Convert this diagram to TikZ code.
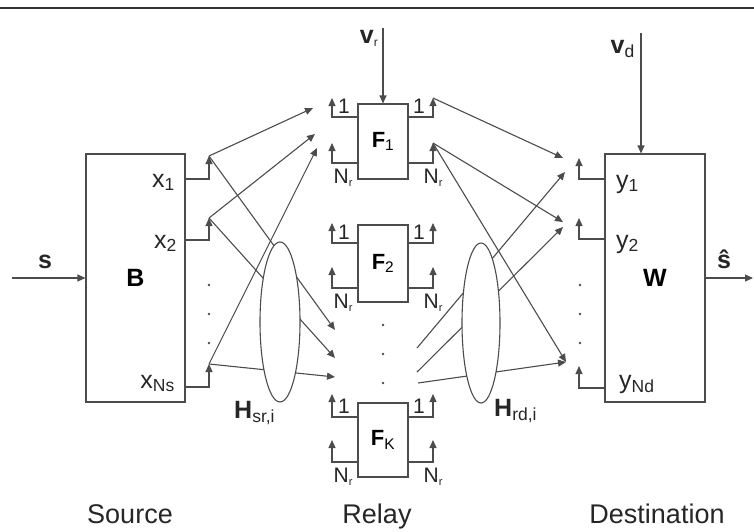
\documentclass[tikz,border=0pt]{standalone}
\usepackage{fontspec}
\setmainfont{Liberation Sans}
\usetikzlibrary{arrows.meta,positioning,shapes.geometric}

\newcommand{\fsbig}{\fontsize{25}{28}\selectfont}
\newcommand{\fsrel}{\fontsize{22}{25}\selectfont}
\newcommand{\fssml}{\fontsize{21}{24}\selectfont}
\newcommand{\fscap}{\fontsize{27}{30}\selectfont}
\newcommand{\nr}{N\raisebox{-0.3ex}{\fontsize{11}{12}\selectfont r}}

\tikzset{
  wire/.style={draw=black!70, line width=1.1pt},
  arr/.style={wire, -{Triangle[length=8pt,width=7pt]}},
  blk/.style={wire, minimum width=99pt, minimum height=248pt, inner sep=0pt, font=\fsbig\bfseries},
  relay/.style={wire, minimum width=50pt, inner sep=0pt, font=\fsrel},
  chan/.style={wire, fill=white, ellipse, inner sep=0pt, minimum width=40pt, minimum height=160pt},
  dot/.style={circle, fill=black!70, inner sep=0pt, minimum size=2.6pt},
  lbl/.style={text=black!85, inner sep=0pt, font=\fsbig}
}

\begin{document}
\begin{tikzpicture}[x=1pt,y=-1pt]
	\useasboundingbox (0,0) rectangle (754,531);
	% Top rule
	\draw[black!80, line width=2pt] (0,8) -- (754,8);

	% Source, relays and destination
	\node[blk] (src) at (135.5,278) {B};
	\node[blk, minimum width=100pt] (dst) at (655,278) {W};
	\node[relay, minimum height=75pt] (f1) at (383,141.5) {\textbf{F}\textsubscript{1}};
	\node[relay, minimum height=77pt] (f2) at (383,263.5) {\textbf{F}\textsubscript{2}};
	\node[relay, minimum height=74pt] (fk) at (383,440) {\textbf{F}\textsubscript{K}};

	% Input, output and noise
	\coordinate (sin) at (12,278);
	\coordinate (sout) at (753,278);
	\draw[arr] (sin) -- (src);
	\draw[arr] (dst) -- (sout);
	\node[lbl, font=\fsbig\bfseries, anchor=base] (s) at (45,268) {s};
	\node[lbl, font=\fsbig\bfseries, anchor=base] (shat) at (724,268) {ŝ};
	\coordinate (vr) at (383,28);
	\coordinate (vd) at (641,33);
	\draw[arr] (vr) -- (f1);
	\draw[arr] (vd) -- (vd |- dst.north);
	\node[lbl, anchor=base east] (vrl) at (378,43) {\textbf{v}\raisebox{-0.3ex}{\fontsize{12}{12}\selectfont r}};
	\node[lbl, anchor=base east] (vdl) at (635,53) {\textbf{v}\textsubscript{d}};

	% Antenna stubs at source and destination
	\foreach \p/\y/\t in {1/179/156, 2/240/218, 3/387/364} {
		\coordinate (x\p) at (209,\t);
		\draw[arr] (src.east |- 0,\y) -| (x\p);
	}
	\foreach \p/\y/\t in {1/179/158, 2/239/218, 3/388/366} {
		\coordinate (y\p) at (579,\t);
		\draw[arr] (dst.west |- 0,\y) -| (y\p);
	}
	\node[lbl, anchor=base east] (xl1) at (175,187) {x\textsubscript{1}};
	\node[lbl, anchor=base east] (xl2) at (177,248) {x\textsubscript{2}};
	\node[lbl, anchor=base east] (xl3) at (175,388) {x\textsubscript{Ns}};
	\node[lbl, anchor=base west] (yl1) at (616,188) {y\textsubscript{1}};
	\node[lbl, anchor=base west] (yl2) at (616,248) {y\textsubscript{2}};
	\node[lbl, anchor=base west] (yl3) at (619,388) {y\textsubscript{Nd}};

	% Dots
	\foreach \y [count=\i] in {285,314,343} {
		\node[dot] (sd\i) at (209,\y) {};
		\node[dot] (dd\i) at (580,\y) {};
	}
	\foreach \y [count=\i] in {325,354,383}
		\node[dot] (rd\i) at (383,\y) {};

	% Antenna stubs at the relays
	\foreach \f/\ya/\ta/\yb/\tb in {f1/117/98/163/143, f2/243/223/288/267, fk/417/394/462/440} {
		\coordinate (\f-i1) at (332,\ta);
		\coordinate (\f-iN) at (332,\tb);
		\coordinate (\f-o1) at (433,\ta);
		\coordinate (\f-oN) at (433,\tb);
		\draw[arr] (\f.west |- 0,\ya) -| (\f-i1);
		\draw[arr] (\f.west |- 0,\yb) -| (\f-iN);
		\draw[arr] (\f.east |- 0,\ya) -| (\f-o1);
		\draw[arr] (\f.east |- 0,\yb) -| (\f-oN);
		\node[lbl, font=\fssml, anchor=south] (\f-l1) at (344,\ya-3) {1};
		\node[lbl, font=\fssml, anchor=south] (\f-r1) at (419,\ya-3) {1};
		\node[lbl, font=\fssml] (\f-lN) at (343,\yb+15) {\nr};
		\node[lbl, font=\fssml] (\f-rN) at (433,\yb+15) {\nr};
	}

	% Source to relay links
	\coordinate (a1) at (313,108);
	\coordinate (a2) at (315,134);
	\coordinate (a3) at (317,148);
	\coordinate (b1) at (335,330);
	\coordinate (b2) at (335,358);
	\coordinate (b3) at (335,377);
	\foreach \p in {1,2,3} {
		\draw[arr] (x\p) -- (a\p);
		\draw[arr] (x\p) -- (b\p);
	}

	% Relay to destination links
	\coordinate (c1) at (563,158);
	\coordinate (c2) at (563,222);
	\coordinate (c3) at (566,362);
	\coordinate (d1) at (565,172);
	\coordinate (d2) at (563,227);
	\coordinate (e1) at (417,348);
	\coordinate (e2) at (417,372);
	\coordinate (e3) at (418,383);
	\draw[arr] (f1-o1) -- (c1);
	\draw[arr] (f1-oN) -- (c2);
	\draw[arr] (f1-oN) -- (c3);
	\draw[arr] (e1) -- (d1);
	\draw[arr] (e2) -- (d2);
	\draw[arr] (e3) -- (c3);

	% Channels
	\node[chan] (hsr) at (280,322) {};
	\node[chan, minimum width=38pt] (hrd) at (481,323) {};
	\node[lbl, anchor=base west] (hsrl) at (234,418) {\textbf{H}\textsubscript{sr,i}};
	\node[lbl, anchor=base west] (hrdl) at (494,416) {\textbf{H}\textsubscript{rd,i}};

	% Captions
	\node[lbl, font=\fscap, anchor=base] (cs) at (130,523) {Source};
	\node[lbl, font=\fscap, anchor=base] (cr) at (377,523) {Relay};
	\node[lbl, font=\fscap, anchor=base] (cd) at (657,523) {Destination};
\end{tikzpicture}
\end{document}
